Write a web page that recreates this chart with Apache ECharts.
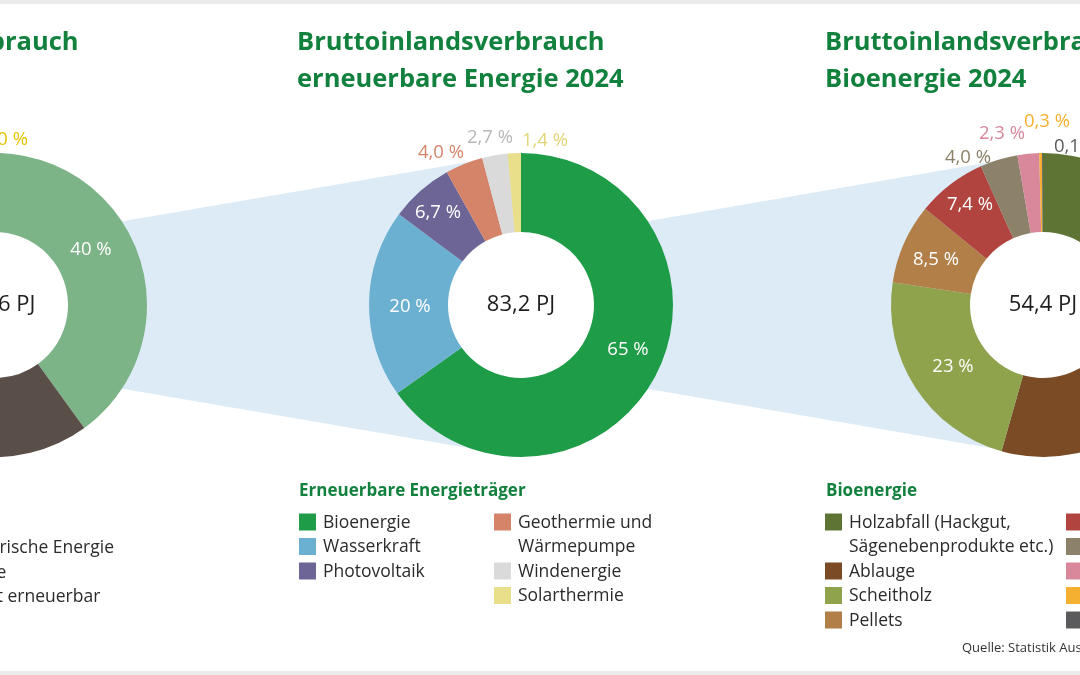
<!DOCTYPE html>
<html>
<head>
<meta charset="utf-8">
<script src="https://cdn.jsdelivr.net/npm/echarts@6/dist/echarts.min.js"></script>
<style>
html, body { margin: 0; padding: 0; background: #fff; }
#main { width: 1080px; height: 675px; }
</style>
</head>
<body>
<div id="main"></div>
<script>
// Daten (Anteile in %)
var totalsPJ = [208.6, 83.2, 54.4];

var gesamtNames = ['Erneuerbare', 'Erdöl', 'Erdgas', 'Kohle', 'Nicht erneuerbar', 'Elektrische Energie'];
var gesamtValues = [40, 34, 19, 3.0, 3.0, 1.0];

var erneuerbarNames = ['Bioenergie', 'Wasserkraft', 'Photovoltaik', 'Geothermie und Wärmepumpe', 'Windenergie', 'Solarthermie'];
var erneuerbarValues = [65, 20, 6.7, 4.0, 2.7, 1.4];

var bioNames = ['Holzabfall (Hackgut, Sägenebenprodukte etc.)', 'Ablauge', 'Scheitholz', 'Pellets', 'Biogene Abfälle', 'Biogas', 'Biokraftstoffe', 'Klärgas', 'Holzkohle'];
var bioValues = [28, 26.4, 23, 8.5, 7.4, 4.0, 2.3, 0.3, 0.1];

var titles = ['Bruttoinlandsverbrauch\nEnergie 2024', 'Bruttoinlandsverbrauch\nerneuerbare Energie 2024', 'Bruttoinlandsverbrauch\nBioenergie 2024'];
var legendTitles = ['Energieträger', 'Erneuerbare Energieträger', 'Bioenergie'];
var quelle = 'Quelle: Statistik Austria';

// Farben
var gesamtColors = ['#7cb387', '#5a4e49', '#9b918b', '#3f3f3f', '#c1b9b2', '#e8c800'];
var erneuerbarColors = ['#1f9c48', '#6cb0d1', '#6e6597', '#d5846a', '#dadada', '#e9de8a'];
var bioColors = ['#5e7435', '#7a4b25', '#8fa24c', '#b27f48', '#b1443f', '#8c8169', '#d8889a', '#f5b031', '#5b5b5d'];

var gesamtLabelColors = ['#fff', '#fff', '#fff', '#fff', '#fff', '#e3c400'];
var erneuerbarLabelColors = ['#fff', '#fff', '#fff', '#d5846a', '#b8b8b8', '#e2d47a'];
var bioLabelColors = ['#fff', '#fff', '#fff', '#fff', '#fff', '#8c8169', '#d8889a', '#f5b031', '#5b5b5d'];

// Layout
var FONT = 'Open Sans';
var GREEN = '#12813d';
var CY = 305, R_IN = 73, R_OUT = 152, BAND_HALF = 62;
var centersX = [-5, 521, 1043];
var titleLeft = [-229, 297, 825];
var legendTitleLeft = [-227, 299, 826];

// Labelposition relativ zum Mittelpunkt
var gesamtSpots = [[96, -55], [-60, 100], [-110, -40], [-70, -150], [-60, -175], [10, -165]];
var erneuerbarSpots = [[107, 45], [-111, 2], [-83, -92], [-80, -152], [-31, -167], [24, -164]];
var bioSpots = [[110, -60], [90, 95], [-90, 62], [-107, -45], [-73, -100], [-75, -147], [-41, -171], [4, -183], [34, -158]];

// Legendenspalten
var legendBreaks = {
    'Geothermie und Wärmepumpe': 'Geothermie und\nWärmepumpe',
    'Holzabfall (Hackgut, Sägenebenprodukte etc.)': 'Holzabfall (Hackgut,\nSägenebenprodukte etc.)'
};
var legendCols = [
    { names: ['Erneuerbare', 'Erdöl', 'Erdgas'], x: -227, y: 522 },
    { names: ['Elektrische Energie', 'Kohle', 'Nicht erneuerbar'], x: -64, y: 547.5 },
    { names: erneuerbarNames.slice(0, 3), x: 299, y: 522 },
    { names: erneuerbarNames.slice(3), x: 494, y: 522 },
    { names: bioNames.slice(0, 4), x: 825, y: 522 },
    { names: bioNames.slice(4), x: 1066, y: 522 }
];

var colorOf = {};
[[gesamtNames, gesamtColors], [erneuerbarNames, erneuerbarColors], [bioNames, bioColors]].forEach(function(pair) {
    pair[0].forEach(function(n, i) { colorOf[n] = pair[1][i]; });
});

function fmtPct(v) {
    return v >= 10 ? Math.round(v) + ' %' : v.toFixed(1).replace('.', ',') + ' %';
}

function donut(idx, names, values, colors, labelColors, spots) {
    var cx = centersX[idx];
    return {
        type: 'pie',
        center: [cx, CY],
        radius: [R_IN, R_OUT],
        startAngle: 90,
        clockwise: true,
        avoidLabelOverlap: false,
        silent: true,
        label: {
            show: true,
            position: 'inside',
            fontFamily: FONT,
            fontSize: 18.5,
            formatter: function(p) { return fmtPct(p.value); }
        },
        labelLine: { show: false },
        labelLayout: function(p) {
            var s = spots[p.dataIndex];
            return { x: cx + s[0], y: CY + s[1], align: 'center', verticalAlign: 'middle' };
        },
        emphasis: { disabled: true },
        itemStyle: { borderWidth: 0 },
        data: names.map(function(n, i) {
            return { name: n, value: values[i], itemStyle: { color: colors[i] }, label: { color: labelColors[i] } };
        })
    };
}

var graphics = [];
// Streifen oben / unten
graphics.push({ type: 'rect', z: 0, shape: { x: 0, y: 0, width: 1080, height: 4 }, style: { fill: '#ebebeb' }, silent: true });
graphics.push({ type: 'rect', z: 0, shape: { x: 0, y: 671, width: 1080, height: 4 }, style: { fill: '#ebebeb' }, silent: true });
// Verbindungsbänder
for (var b = 0; b < 2; b++) {
    var fx = centersX[b], tx = centersX[b + 1];
    graphics.push({
        type: 'polygon', z: 0, silent: true,
        shape: { points: [[fx, CY - BAND_HALF], [tx, CY - R_OUT], [tx, CY + R_OUT], [fx, CY + BAND_HALF]] },
        style: { fill: '#dcebf6' }
    });
}
// weißes Loch + Summe in der Mitte
totalsPJ.forEach(function(t, i) {
    graphics.push({
        type: 'circle', z: 1, silent: true,
        shape: { cx: centersX[i], cy: CY, r: R_IN + 1 },
        style: { fill: '#fff' }
    });
    graphics.push({
        type: 'text', z: 100, x: centersX[i], y: CY, silent: true,
        style: { text: t.toFixed(1).replace('.', ',') + ' PJ', fill: '#1e1e1e', fontFamily: FONT, fontSize: 22, align: 'center', verticalAlign: 'middle' }
    });
});
// Legenden
legendTitles.forEach(function(t, i) {
    graphics.push({
        type: 'text', z: 100, x: legendTitleLeft[i], y: 491, silent: true,
        style: { text: t, fill: GREEN, fontFamily: FONT, fontSize: 17, fontWeight: 'bold', verticalAlign: 'middle' }
    });
});
var LINE = 24.5;
legendCols.forEach(function(col) {
    var y = col.y;
    col.names.forEach(function(n) {
        var txt = legendBreaks[n] || n;
        graphics.push({ type: 'rect', z: 100, silent: true, shape: { x: col.x, y: y - 8.5, width: 17, height: 17 }, style: { fill: colorOf[n] } });
        graphics.push({
            type: 'text', z: 100, x: col.x + 24, y: y - LINE / 2 + 1, silent: true,
            style: { text: txt, fill: '#2b2b2b', fontFamily: FONT, fontSize: 17.5, lineHeight: LINE, verticalAlign: 'top' }
        });
        y += LINE * txt.split('\n').length;
    });
});
graphics.push({
    type: 'text', z: 100, x: 962, y: 648, silent: true,
    style: { text: quelle, fill: '#333', fontFamily: FONT, fontSize: 13, verticalAlign: 'middle' }
});

var option = {
    backgroundColor: '#fff',
    animation: false,
    title: titles.map(function(t, i) {
        return {
            text: t, left: titleLeft[i], top: 24.5, padding: 0,
            textStyle: { color: GREEN, fontFamily: FONT, fontSize: 25.5, fontWeight: 'bold', lineHeight: 36.5 }
        };
    }),
    graphic: { elements: graphics },
    series: [
        donut(0, gesamtNames, gesamtValues, gesamtColors, gesamtLabelColors, gesamtSpots),
        donut(1, erneuerbarNames, erneuerbarValues, erneuerbarColors, erneuerbarLabelColors, erneuerbarSpots),
        donut(2, bioNames, bioValues, bioColors, bioLabelColors, bioSpots)
    ]
};

var chart = echarts.init(document.getElementById('main'));
chart.setOption(option);
</script>
</body>
</html>
